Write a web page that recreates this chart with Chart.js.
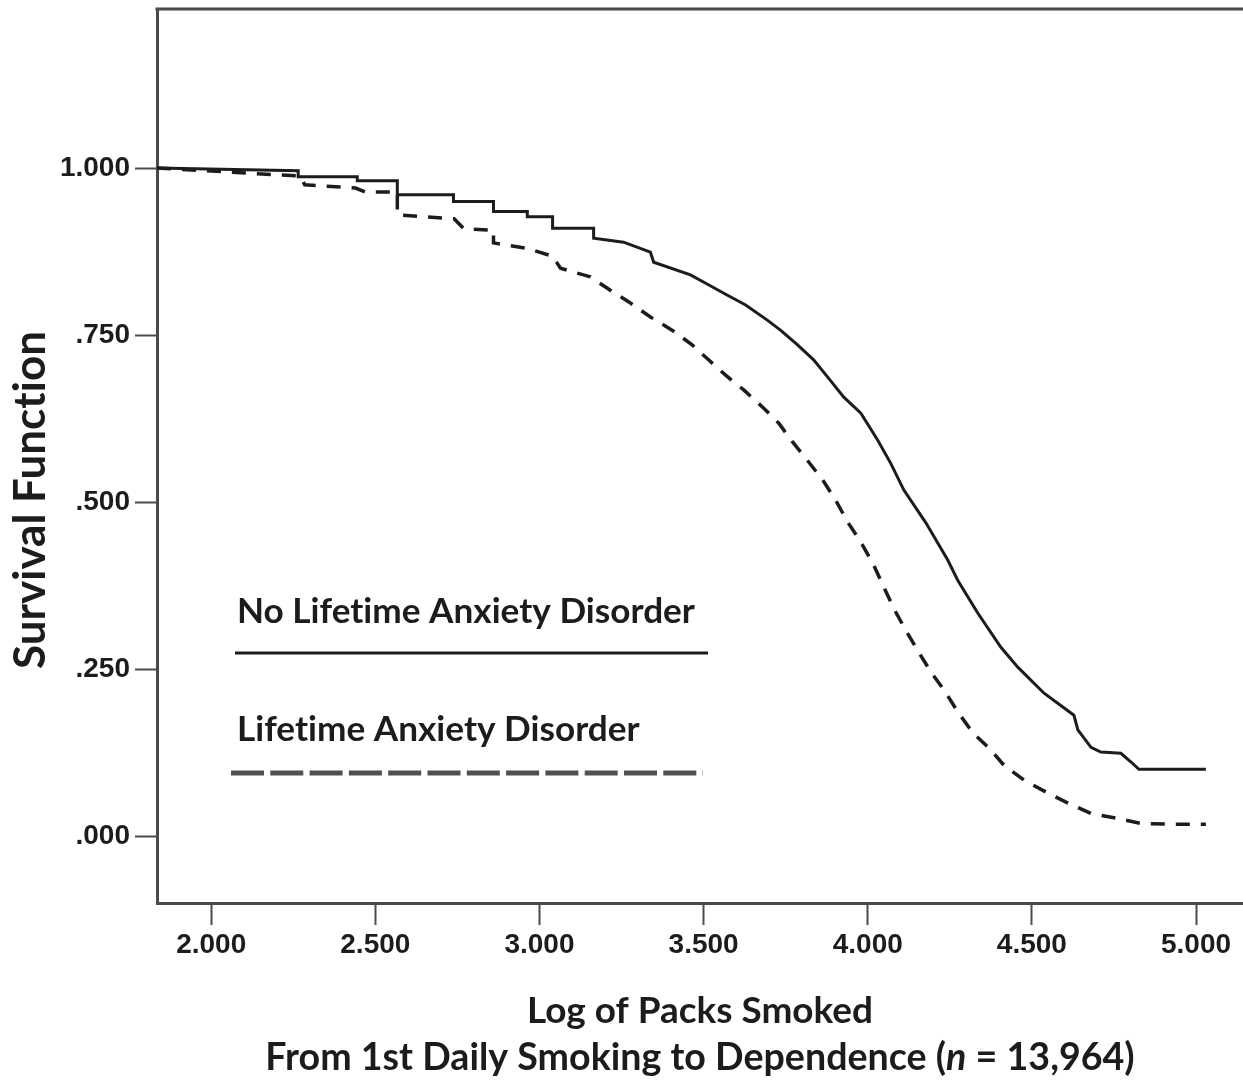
<!DOCTYPE html>
<html>
<head>
<meta charset="utf-8">
<script src="https://cdn.jsdelivr.net/npm/chart.js@4.4.1/dist/chart.umd.min.js"></script>
<style>
  html, body { margin: 0; padding: 0; background: #ffffff; }
  #wrap { width: 1243px; height: 1080px; }
</style>
</head>
<body>
<div id="wrap"><canvas id="survival-chart" width="1243" height="1080"></canvas></div>
<script>
// Kaplan-Meier curves (x = log of packs smoked)
const noAnxietyX = [1.835, 2.265, 2.265, 2.445, 2.445, 2.567, 2.567, 2.738, 2.738, 2.860, 2.860, 2.963, 2.963, 3.040, 3.040, 3.165, 3.165, 3.256, 3.338, 3.348, 3.460, 3.512, 3.567, 3.628, 3.695, 3.735, 3.787, 3.835, 3.878, 3.927, 3.979, 4.030, 4.070, 4.110, 4.177, 4.244, 4.274, 4.335, 4.405, 4.457, 4.537, 4.628, 4.640, 4.680, 4.710, 4.771, 4.802, 4.826, 5.030];
const noAnxietyS = [1.000, 0.996, 0.987, 0.987, 0.981, 0.981, 0.960, 0.960, 0.950, 0.950, 0.935, 0.935, 0.927, 0.927, 0.910, 0.910, 0.895, 0.889, 0.874, 0.859, 0.840, 0.826, 0.811, 0.795, 0.772, 0.757, 0.735, 0.713, 0.687, 0.657, 0.633, 0.593, 0.558, 0.518, 0.469, 0.413, 0.383, 0.334, 0.283, 0.253, 0.214, 0.181, 0.159, 0.133, 0.126, 0.124, 0.111, 0.100, 0.100];

const anxietyX = [1.835, 2.270, 2.285, 2.440, 2.470, 2.567, 2.567, 2.740, 2.770, 2.860, 2.860, 2.960, 3.040, 3.064, 3.155, 3.216, 3.277, 3.338, 3.405, 3.466, 3.515, 3.567, 3.622, 3.680, 3.729, 3.771, 3.820, 3.863, 3.902, 3.939, 3.979, 4.015, 4.046, 4.079, 4.116, 4.152, 4.192, 4.232, 4.277, 4.320, 4.375, 4.415, 4.476, 4.543, 4.604, 4.680, 4.756, 4.832, 4.924, 5.030];
const anxietyS = [1.000, 0.988, 0.975, 0.970, 0.964, 0.964, 0.930, 0.924, 0.909, 0.907, 0.888, 0.880, 0.868, 0.850, 0.837, 0.817, 0.798, 0.777, 0.757, 0.735, 0.713, 0.690, 0.668, 0.642, 0.618, 0.590, 0.560, 0.533, 0.503, 0.470, 0.440, 0.409, 0.376, 0.341, 0.308, 0.278, 0.246, 0.219, 0.184, 0.155, 0.129, 0.106, 0.084, 0.066, 0.051, 0.034, 0.027, 0.019, 0.018, 0.018];

const xTickValues = [2, 2.5, 3, 3.5, 4, 4.5, 5];
const xTickLabels = ["2.000", "2.500", "3.000", "3.500", "4.000", "4.500", "5.000"];
const yTickValues = [0, 0.25, 0.5, 0.75, 1];
const yTickLabels = [".000", ".250", ".500", ".750", "1.000"];

const seriesNames = ["No Lifetime Anxiety Disorder", "Lifetime Anxiety Disorder"];
const yTitle = "Survival Function";
const xTitle = "Log of Packs Smoked";
const xSubtitleParts = ["From 1st Daily Smoking to Dependence (", "n", " = 13,964)"];

const inkColor = "#1c1c1c";
const axisColor = "#4a4a4a";
const titleFamily = "Lato, 'Open Sans', sans-serif";
const tickFont = { family: "'Liberation Sans', Arial, sans-serif", size: 28, weight: "bold" };

function toPoints(xs, ys) {
  return xs.map(function (x, i) {
    return { x: x, y: ys[i] };
  });
}

function fitSize(ctx, text, width, style) {
  ctx.font = style + " 100px " + titleFamily;
  return 100 * width / ctx.measureText(text).width;
}

function drawText(ctx, text, x, y, width, style) {
  const size = fitSize(ctx, text, width, style);
  ctx.font = style + " " + size + "px " + titleFamily;
  ctx.fillText(text, x, y);
}

const decorPlugin = {
  id: "decor",
  afterDraw: function (chart) {
    const ctx = chart.ctx;
    const area = chart.chartArea;
    ctx.save();
    ctx.letterSpacing = "0.01px";

    // top frame line
    ctx.strokeStyle = axisColor;
    ctx.lineWidth = 3;
    ctx.beginPath();
    ctx.moveTo(area.left - 1.5, area.top);
    ctx.lineTo(chart.width, area.top);
    ctx.stroke();

    ctx.fillStyle = inkColor;
    ctx.textBaseline = "alphabetic";

    // y axis title
    ctx.save();
    ctx.translate(45, 500);
    ctx.rotate(-Math.PI / 2);
    ctx.textAlign = "center";
    drawText(ctx, yTitle, 0, 0, 338, "bold");
    ctx.restore();

    // x axis title, two lines with italic n
    ctx.textAlign = "center";
    drawText(ctx, xTitle, 700, 1023, 346, "bold");

    ctx.textAlign = "left";
    const fullLine = xSubtitleParts.join("");
    const subSize = fitSize(ctx, fullLine, 870, "bold");
    const styles = ["bold", "italic bold", "bold"];
    const widths = xSubtitleParts.map(function (part, i) {
      ctx.font = styles[i] + " " + subSize + "px " + titleFamily;
      return ctx.measureText(part).width;
    });
    const total = widths.reduce(function (a, b) { return a + b; }, 0);
    let cx = 700 - total / 2;
    xSubtitleParts.forEach(function (part, i) {
      ctx.font = styles[i] + " " + subSize + "px " + titleFamily;
      ctx.fillText(part, cx, 1070);
      cx += widths[i];
    });

    // legend inside the plot
    const legendSize = fitSize(ctx, seriesNames[0], 458, "bold");
    ctx.font = "bold " + legendSize + "px " + titleFamily;
    ctx.fillText(seriesNames[0], 237, 623);
    ctx.fillText(seriesNames[1], 237, 741);

    ctx.strokeStyle = inkColor;
    ctx.lineWidth = 3;
    ctx.beginPath();
    ctx.moveTo(235, 653);
    ctx.lineTo(708, 653);
    ctx.stroke();

    ctx.strokeStyle = "#505050";
    ctx.lineWidth = 5;
    ctx.setLineDash([33, 6.3]);
    ctx.beginPath();
    ctx.moveTo(231, 773);
    ctx.lineTo(703, 773);
    ctx.stroke();

    ctx.restore();
  },
};

new Chart(document.getElementById("survival-chart"), {
  type: "scatter",
  data: {
    datasets: [
      {
        label: seriesNames[0],
        data: toPoints(noAnxietyX, noAnxietyS),
        showLine: true,
        borderColor: inkColor,
        borderWidth: 3,
        pointRadius: 0,
        tension: 0,
      },
      {
        label: seriesNames[1],
        data: toPoints(anxietyX, anxietyS),
        showLine: true,
        borderColor: inkColor,
        borderWidth: 3.5,
        borderDash: [14, 11],
        pointRadius: 0,
        tension: 0,
      },
    ],
  },
  options: {
    responsive: false,
    animation: false,
    devicePixelRatio: 1,
    layout: {
      padding: { top: 9, left: 0, right: 0, bottom: 0 },
    },
    plugins: {
      legend: { display: false },
      tooltip: { enabled: false },
    },
    scales: {
      x: {
        type: "linear",
        min: 1.835,
        max: 5.143,
        afterFit: function (scale) {
          scale.height = 177;
          scale.paddingLeft = 0;
          scale.paddingRight = 0;
        },
        afterBuildTicks: function (scale) {
          scale.ticks = xTickValues.map(function (v) {
            return { value: v };
          });
        },
        border: { display: true, color: axisColor, width: 3 },
        grid: {
          drawOnChartArea: false,
          drawTicks: true,
          tickLength: 22,
          tickWidth: 2,
          tickColor: axisColor,
        },
        ticks: {
          color: inkColor,
          font: tickFont,
          padding: 3,
          maxRotation: 0,
          callback: function (value) {
            const i = xTickValues.indexOf(value);
            return i >= 0 ? xTickLabels[i] : "";
          },
        },
      },
      y: {
        type: "linear",
        min: -0.1,
        max: 1.238,
        afterFit: function (scale) {
          scale.width = 157;
          scale.paddingTop = 0;
          scale.paddingBottom = 0;
        },
        afterBuildTicks: function (scale) {
          scale.ticks = yTickValues.map(function (v) {
            return { value: v };
          });
        },
        border: { display: true, color: axisColor, width: 3 },
        grid: {
          drawOnChartArea: false,
          drawTicks: true,
          tickLength: 22,
          tickWidth: 2,
          tickColor: axisColor,
        },
        ticks: {
          color: inkColor,
          font: tickFont,
          padding: 5,
          callback: function (value) {
            const i = yTickValues.indexOf(value);
            return i >= 0 ? yTickLabels[i] : "";
          },
        },
      },
    },
  },
  plugins: [decorPlugin],
});
</script>
</body>
</html>
